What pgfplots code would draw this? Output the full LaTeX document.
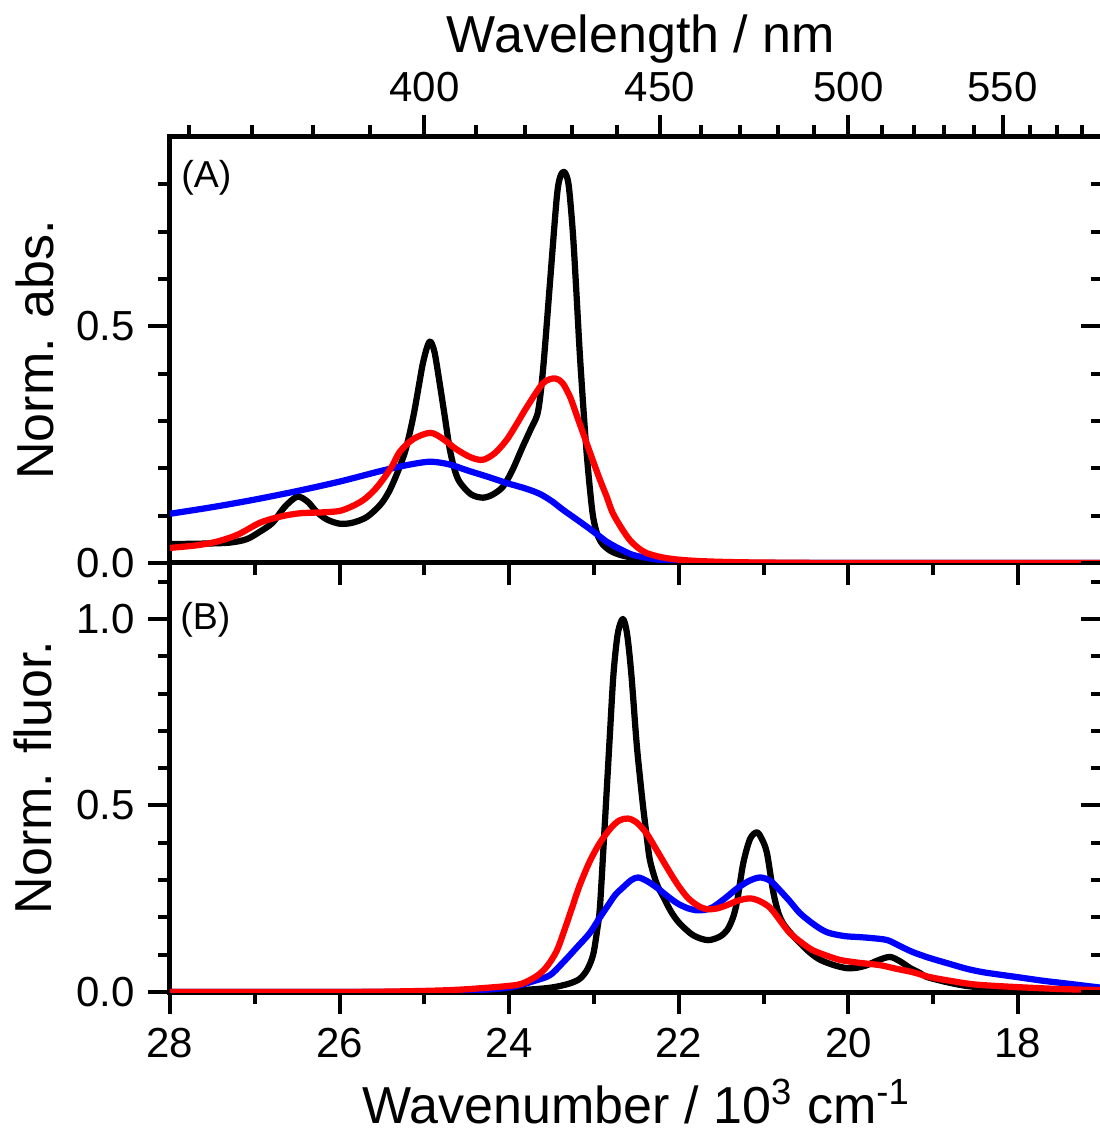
\documentclass[border=0pt]{standalone}
\usepackage{fontspec}
\setmainfont{Liberation Sans}
\usepackage{pgfplots}
\pgfplotsset{compat=1.18}
\newcommand{\lblfont}{\fontsize{20.8}{24}\selectfont}
\pgfplotsset{
  base/.style={
    scale only axis, width=373.12pt, xmin=17, xmax=28, x dir=reverse, ymin=0,
    axis line style={line width=2pt, -, line cap=rect},
    every tick/.style={line width=1.6pt, black},
    major tick length=8.8pt, minor tick length=4.8pt,
    tick align=outside,
    tick label style={font=\fontsize{16.8}{20}\selectfont, inner sep=0pt},
    clip=true,
  },
  crv/.style={line width=2.5pt, smooth, tension=0.5, line join=round},
}
\begin{document}
\begin{tikzpicture}
% ---------------- top panel (A) ----------------
\begin{axis}[base, at={(0,171.6pt)}, anchor=south west, height=170.4pt, ymax=0.9,
  axis x line*=bottom, axis y line*=left,
  xtick={18,20,...,28}, minor xtick={19,21,...,27}, xticklabels={},
  ytick={0,0.5}, yticklabels={0.0,0.5}, minor ytick={0.1,0.2,0.3,0.4,0.6,0.7,0.8},
  yticklabel style={anchor=east, xshift=-5.2pt},
  ylabel={Norm. abs.},
  every axis y label/.style={at={(axis description cs:-0.1445,0.5)}, rotate=90, anchor=center, font=\lblfont},
]
\addplot[crv, black] table {
28.0 0.040
27.6 0.041
27.3 0.043
27.1 0.050
26.95 0.065
26.79 0.085
26.65 0.118
26.5 0.140
26.38 0.130
26.27 0.108
26.15 0.092
26.0 0.083
25.85 0.085
25.68 0.097
25.52 0.123
25.42 0.150
25.32 0.190
25.22 0.240
25.13 0.310
25.06 0.380
25.02 0.420
24.97 0.455
24.93 0.468
24.88 0.445
24.82 0.380
24.76 0.310
24.70 0.240
24.64 0.195
24.58 0.170
24.45 0.145
24.31 0.138
24.19 0.145
24.07 0.162
23.96 0.197
23.84 0.246
23.74 0.285
23.66 0.320
23.60 0.410
23.52 0.590
23.44 0.770
23.40 0.815
23.35 0.826
23.30 0.800
23.25 0.700
23.21 0.580
23.17 0.450
23.13 0.340
23.09 0.240
23.05 0.160
23.01 0.097
22.96 0.060
22.90 0.040
22.80 0.025
22.65 0.015
22.45 0.009
22.2 0.005
21.8 0.002
21.0 0.0
17.0 0.0
};
\addplot[crv, blue] table {
28.0 0.104
27.5 0.118
27.0 0.134
26.5 0.152
26.0 0.172
25.5 0.195
25.2 0.207
24.93 0.214
24.7 0.208
24.5 0.196
24.25 0.182
24.03 0.169
23.8 0.157
23.64 0.146
23.5 0.131
23.37 0.113
23.22 0.094
23.08 0.076
22.96 0.060
22.85 0.045
22.7 0.030
22.54 0.017
22.35 0.010
22.19 0.006
21.9 0.003
21.5 0.001
21.0 0.0
17.0 0.0
};
\addplot[crv, red] table {
28.0 0.032
27.7 0.037
27.45 0.045
27.2 0.060
26.94 0.085
26.7 0.098
26.47 0.105
26.2 0.107
26.0 0.110
25.85 0.120
25.72 0.133
25.6 0.152
25.49 0.176
25.38 0.205
25.29 0.235
25.13 0.262
24.93 0.275
24.78 0.262
24.62 0.240
24.45 0.223
24.31 0.218
24.17 0.232
24.03 0.260
23.9 0.297
23.79 0.330
23.6 0.380
23.46 0.390
23.37 0.380
23.28 0.350
23.2 0.310
23.13 0.275
23.03 0.225
22.93 0.176
22.85 0.140
22.78 0.106
22.68 0.075
22.58 0.049
22.48 0.032
22.38 0.021
22.2 0.012
22.0 0.007
21.75 0.004
21.4 0.002
21.0 0.001
20.0 0.0
17.0 0.0
};
\node[anchor=west, font=\fontsize{15}{18}\selectfont, inner sep=0pt] at (rel axis cs:0.0118,0.904) {(A)};
\end{axis}
% right-side inward ticks of (A)
\begin{axis}[base, at={(0,171.6pt)}, anchor=south west, height=170.4pt, ymax=0.9,
  axis y line*=right, hide x axis, tick align=inside, y axis line style={draw=none},
  ytick={0,0.5}, yticklabels={}, minor ytick={0.1,0.2,0.3,0.4,0.6,0.7,0.8}]
\end{axis}
% wavelength axis on top
\begin{axis}[base, at={(0,171.6pt)}, anchor=south west, height=170.4pt, ymax=0.9,
  axis x line*=top, hide y axis,
  xtick={25,22.2222,20,18.1818}, xticklabels={400,450,500,550},
  minor xtick={27.778,27.027,26.316,25.641,24.390,23.810,23.256,22.727,21.739,21.277,20.833,20.408,19.608,19.231,18.868,18.519,17.857,17.544,17.241},
  xticklabel style={anchor=south, yshift=5.2pt},
  xlabel={Wavelength / nm},
  every axis x label/.style={at={(axis description cs:0.505,1)}, anchor=base, yshift=33.6pt, font=\lblfont},
]
\end{axis}
% ---------------- bottom panel (B) ----------------
\begin{axis}[base, at={(0,0)}, anchor=south west, height=171.6pt, ymax=1.15,
  axis x line*=bottom, axis y line*=left,
  xtick={18,20,...,28}, minor xtick={19,21,...,27}, xticklabels={18,20,22,24,26,28},
  xticklabel style={anchor=north, yshift=-5.6pt},
  ytick={0,0.5,1}, yticklabels={0.0,0.5,1.0}, minor ytick={0.1,0.2,0.3,0.4,0.6,0.7,0.8,0.9,1.1},
  yticklabel style={anchor=east, xshift=-5.2pt},
  ylabel={Norm. fluor.},
  every axis y label/.style={at={(axis description cs:-0.1465,0.5)}, rotate=90, anchor=center, font=\lblfont},
  xlabel={Wavenumber / 10\textsuperscript{3} cm\textsuperscript{-1}},
  every axis x label/.style={at={(axis description cs:0.5,0)}, anchor=base, yshift=-52.4pt, font=\lblfont},
]
\addplot[crv, black] table {
28.0 0.0
25.0 0.0
24.3 0.002
23.8 0.006
23.5 0.012
23.3 0.022
23.17 0.035
23.08 0.060
23.01 0.100
22.96 0.170
22.93 0.227
22.89 0.380
22.85 0.540
22.81 0.700
22.77 0.853
22.72 0.960
22.66 1.000
22.61 0.960
22.56 0.853
22.50 0.674
22.46 0.580
22.42 0.495
22.38 0.420
22.34 0.353
22.26 0.290
22.18 0.254
22.09 0.215
21.99 0.184
21.83 0.152
21.66 0.139
21.52 0.148
21.43 0.166
21.36 0.200
21.31 0.246
21.24 0.345
21.16 0.410
21.08 0.428
21.02 0.410
20.96 0.372
20.89 0.273
20.83 0.215
20.77 0.184
20.67 0.155
20.57 0.131
20.45 0.105
20.33 0.086
20.17 0.072
20.02 0.064
19.90 0.065
19.78 0.072
19.65 0.085
19.51 0.094
19.39 0.082
19.27 0.064
19.15 0.050
19.07 0.040
18.85 0.027
18.6 0.016
18.3 0.010
18.0 0.006
17.5 0.003
17.0 0.001
};
\addplot[crv, blue] table {
28.0 0.0
25.0 0.0
24.5 0.003
24.0 0.012
23.7 0.030
23.52 0.045
23.37 0.078
23.2 0.120
23.05 0.158
22.93 0.200
22.85 0.227
22.75 0.260
22.66 0.280
22.56 0.300
22.48 0.307
22.38 0.298
22.26 0.280
22.14 0.258
22.02 0.238
21.9 0.225
21.79 0.219
21.7 0.220
21.6 0.227
21.45 0.252
21.31 0.278
21.17 0.298
21.04 0.307
20.92 0.298
20.81 0.273
20.69 0.243
20.57 0.211
20.4 0.180
20.25 0.160
20.05 0.150
19.86 0.147
19.7 0.144
19.54 0.139
19.4 0.124
19.24 0.107
19.04 0.091
18.8 0.075
18.6 0.062
18.41 0.053
18.2 0.046
18.01 0.040
17.7 0.030
17.4 0.022
17.0 0.011
};
\addplot[crv, red] table {
28.0 0.0
26.0 0.0
25.2 0.002
24.7 0.005
24.34 0.010
23.91 0.019
23.75 0.033
23.65 0.047
23.55 0.070
23.44 0.110
23.35 0.165
23.26 0.225
23.17 0.285
23.05 0.350
22.93 0.400
22.8 0.440
22.7 0.460
22.6 0.465
22.5 0.455
22.38 0.425
22.26 0.380
22.14 0.334
22.02 0.290
21.9 0.254
21.78 0.232
21.67 0.222
21.55 0.224
21.43 0.233
21.3 0.245
21.16 0.251
21.04 0.243
20.92 0.225
20.8 0.190
20.69 0.158
20.55 0.132
20.42 0.112
20.25 0.097
20.1 0.086
19.9 0.079
19.63 0.072
19.45 0.063
19.24 0.053
19.04 0.040
18.8 0.030
18.5 0.020
18.0 0.013
17.5 0.008
17.0 0.005
};
\node[anchor=west, font=\fontsize{15}{18}\selectfont, inner sep=0pt] at (rel axis cs:0.0107,0.867) {(B)};
\end{axis}
% right-side inward ticks of (B)
\begin{axis}[base, at={(0,0)}, anchor=south west, height=171.6pt, ymax=1.15,
  axis y line*=right, hide x axis, tick align=inside, y axis line style={draw=none},
  ytick={0,0.5,1}, yticklabels={}, minor ytick={0.1,0.2,0.3,0.4,0.6,0.7,0.8,0.9,1.1}]
\end{axis}
\pgfresetboundingbox
\useasboundingbox (-68pt,-55.6pt) rectangle (371.6pt,396.8pt);
\end{tikzpicture}
\end{document}
